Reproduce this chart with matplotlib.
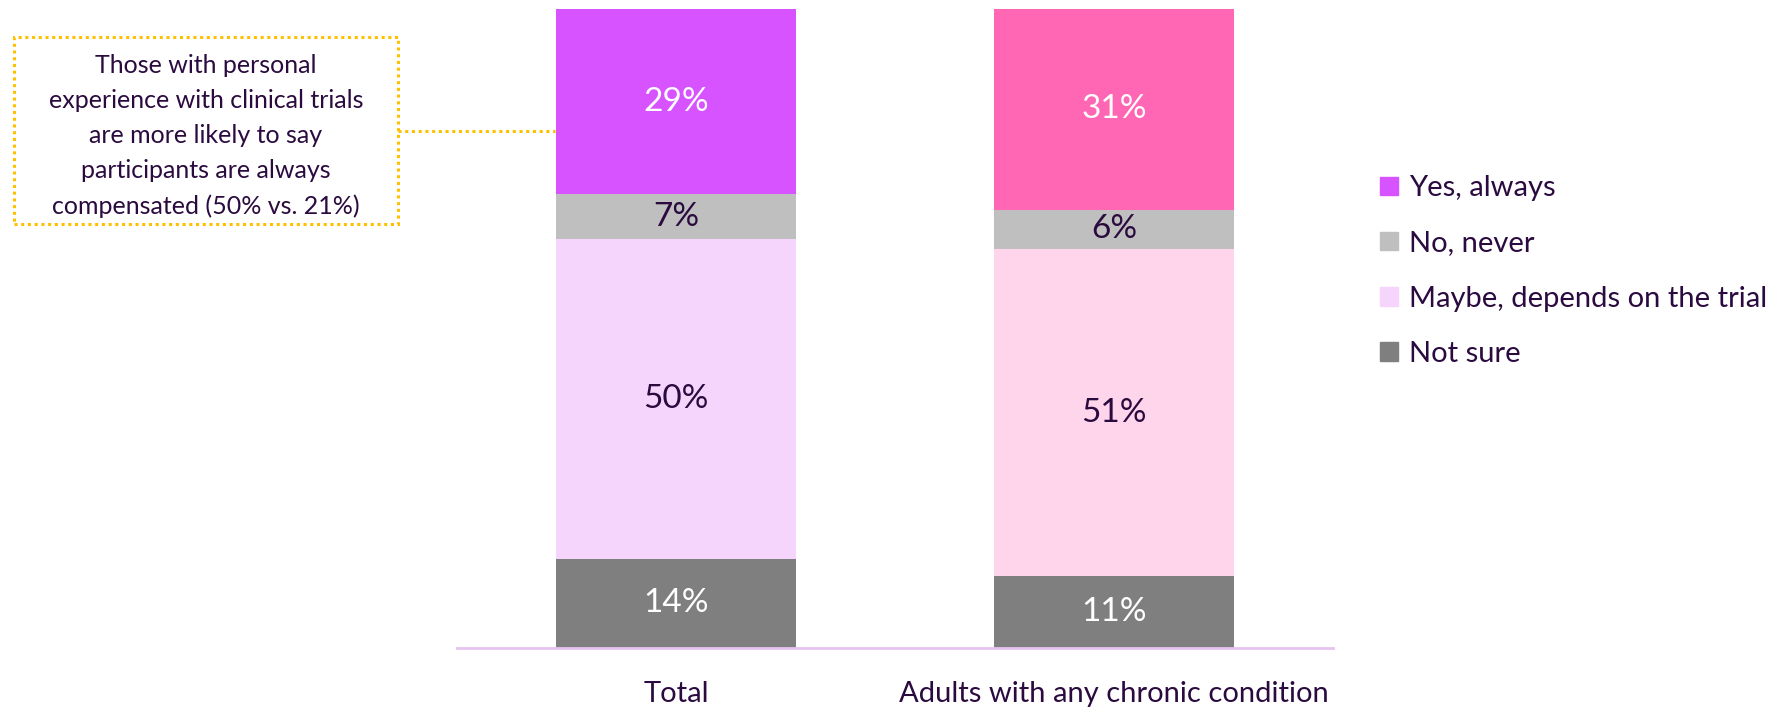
import numpy as np
import matplotlib.pyplot as plt
from matplotlib.patches import Rectangle
from matplotlib.lines import Line2D

plt.rcParams['font.family'] = ['Lato', 'DejaVu Sans']

categories = ['Total', 'Adults with any chronic condition']
series = ['Not sure', 'Maybe, depends on the trial', 'No, never', 'Yes, always']
not_sure = [14.0, 11.2]
maybe = [50.0, 51.2]
never = [7.0, 6.2]
always = [29.0, 31.4]

txt = '#2B0B3F'
# colours per segment, per bar (the chronic bar has pink tones)
cols = {
    'Not sure': ['#7F7F7F', '#7F7F7F'],
    'Maybe, depends on the trial': ['#F6D5FC', '#FFD5EC'],
    'No, never': ['#BFBFBF', '#BFBFBF'],
    'Yes, always': ['#D653FF', '#FF66B3'],
}
lab_col = {'Not sure': 'white', 'Maybe, depends on the trial': txt,
           'No, never': txt, 'Yes, always': 'white'}

fig = plt.figure(figsize=(17.83, 7.07), dpi=100)
ax = fig.add_axes([457/1783, 59/707, 876/1783, 639/707])

x = np.arange(len(categories))
bottom = np.zeros(len(categories))
for name, vals in zip(series, [not_sure, maybe, never, always]):
    vals = np.array(vals)
    ax.bar(x, vals, width=0.546, bottom=bottom, color=cols[name], label=name)
    for xi, b, v in zip(x, bottom, vals):
        ax.text(xi, b + v / 2, f'{v:.0f}%', ha='center', va='center',
                fontsize=24, color=lab_col[name])
    bottom += vals

ax.set_xlim(-0.5, 1.5)
ax.set_ylim(0, 100)
ax.set_yticks([])
ax.set_xticks(x)
ax.set_xticklabels(categories, fontsize=21, color=txt)
ax.tick_params(axis='x', length=0, pad=24)
for s in ['top', 'right', 'left']:
    ax.spines[s].set_visible(False)
ax.spines['bottom'].set_color('#E6C3F2')
ax.spines['bottom'].set_linewidth(2)

# legend (top to bottom order like the reference)
handles = [Rectangle((0, 0), 1, 1, color=cols[n][0]) for n in series[::-1]]
fig.legend(handles, series[::-1], loc='upper left', bbox_to_anchor=(1354/1783, 1 - 149/707),
           frameon=False, fontsize=21, labelcolor=txt, handlelength=0.6, handleheight=0.6,
           handletextpad=0.4, labelspacing=1.0)

# annotation box with dotted connector
W, H = 1783, 707
box = Rectangle((14/W, 1 - 224/H), 384/W, 187/H, transform=fig.transFigure,
                fill=False, edgecolor='#FFC000', linewidth=2.2, linestyle=(0, (1, 1.2)))
fig.add_artist(box)
fig.add_artist(Line2D([398/W, 555/W], [1 - 131/H, 1 - 131/H], transform=fig.transFigure,
                      color='#FFC000', linewidth=2.2, linestyle=(0, (1, 1.2))))
fig.text(206/W, 1 - 136/H,
         'Those with personal\nexperience with clinical trials\nare more likely to say\n'
         'participants are always\ncompensated (50% vs. 21%)',
         ha='center', va='center', fontsize=18, color=txt, linespacing=1.62)

fig.savefig('out.png', dpi=100)
